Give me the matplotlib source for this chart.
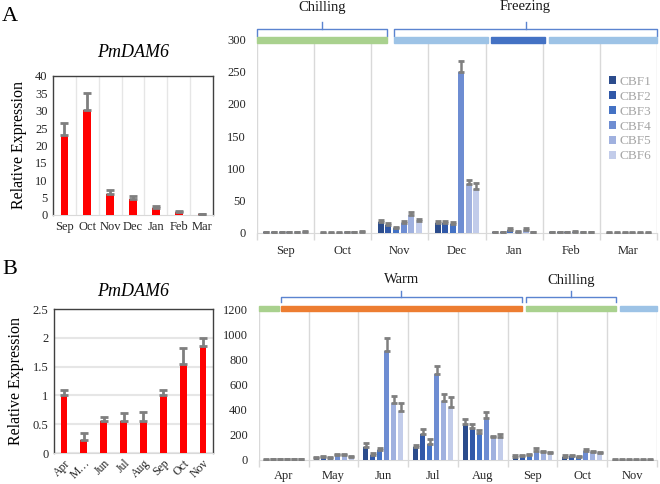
import numpy as np
import matplotlib
matplotlib.use("Agg")
import matplotlib.pyplot as plt
from matplotlib.patches import Rectangle
import matplotlib.transforms as mtransforms

plt.rcParams['font.family'] = ['Liberation Serif', 'DejaVu Serif']

# ---- data ----
months_a = ["Sep", "Oct", "Nov", "Dec", "Jan", "Feb", "Mar"]
dam6_a = [23.0, 30.3, 6.0, 4.6, 2.1, 0.9, 0.2]
dam6_a_err = [3.5, 4.7, 1.2, 1.0, 0.5, 0.3, 0.1]

months_b = ["Apr", "M\u2026", "Jun", "Jul", "Aug", "Sep", "Oct", "Nov"]
months_b_right = ["Apr", "May", "Jun", "Jul", "Aug", "Sep", "Oct", "Nov"]
dam6_b = [1.0, 0.23, 0.55, 0.55, 0.55, 1.0, 1.55, 1.85]
dam6_b_err = [0.1, 0.12, 0.08, 0.14, 0.17, 0.09, 0.28, 0.14]

cbf_names = ["CBF1", "CBF2", "CBF3", "CBF4", "CBF5", "CBF6"]
cbf_colors = ["#2B4C8C", "#3058A8", "#4472C4", "#6E8DD2", "#A0B1DF", "#C2CCEA"]

# CBF expression, winter series (rows = CBF1..6, columns = Sep..Mar)
cbf_a = [
    [1, 0.5, 16.5, 15, 1, 1, 0.5],
    [1, 0.5, 12.4, 15, 1, 1, 0.5],
    [1, 0.5, 7.2, 13.4, 5, 1, 0.5],
    [1, 1, 15, 249.5, 2, 2, 0.5],
    [1, 1, 28, 75.8, 4, 1, 0.5],
    [2, 2, 18, 68, 1, 1, 0.5],
]
cbf_a_err = [
    [1, 1, 4, 4, 1, 1, 0.8],
    [1, 1, 3, 3.5, 1, 1, 0.8],
    [1, 1, 2, 4, 3, 1, 0.8],
    [1, 1, 4, 16.5, 1, 1, 0.8],
    [1, 1, 4.5, 5.6, 3, 1, 0.8],
    [1, 1, 3.6, 10, 1, 1, 0.8],
]

# CBF expression, summer series (columns = Apr..Nov)
cbf_b = [
    [3, 13, 107, 107, 288, 27, 21, 3],
    [5, 21, 40, 208, 259, 32, 29, 3],
    [5, 16, 80, 131, 213, 37, 24, 3],
    [5, 40, 875, 685, 336, 69, 75, 3],
    [8, 40, 453, 472, 184, 64, 64, 3],
    [6, 27, 392, 427, 184, 59, 59, 3],
]
cbf_b_err = [
    [3, 8, 32, 16, 40, 13, 16, 2],
    [3, 8, 13, 43, 32, 11, 14, 2],
    [3, 5, 16, 34, 30, 11, 8, 2],
    [3, 5, 104, 70, 51, 27, 10, 2],
    [3, 5, 59, 53, 8, 5, 8, 2],
    [3, 8, 61, 77, 24, 5, 8, 2],
]

# temperature phases: (start, end, colour) in category units
phases_a = [(-0.5, 1.78, "#A9D18E"), (1.9, 3.55, "#9DC3E6"),
            (3.6, 4.54, "#4472C4"), (4.61, 6.5, "#9DC3E6")]
phases_b = [(-0.5, -0.1, "#A9D18E"), (-0.06, 4.78, "#ED7D31"),
            (4.86, 6.68, "#A9D18E"), (6.76, 7.5, "#9DC3E6")]
brackets_a = [(-0.5, 1.78, "Chilling"), (1.9, 6.5, "Freezing")]
brackets_b = [(-0.06, 4.78, "Warm"), (4.86, 6.68, "Chilling")]

err_color = "#7F7F7F"
grid_color = "#D9D9D9"
tick_color = "#262626"

fig = plt.figure(figsize=(6.6, 4.84), dpi=100)


def left_panel(rect, labels, vals, errs, ymax, ystep, hgrid, rotate, tpad):
    ax = fig.add_axes(rect)
    x = np.arange(len(labels))
    ax.bar(x, vals, width=0.34, color="#FF0000", zorder=3)
    ax.errorbar(x, vals, yerr=[np.zeros(len(vals)), errs], fmt="none",
                ecolor=err_color, elinewidth=2, capsize=3, capthick=2, zorder=4)
    ax.set_xlim(-0.5, len(labels) - 0.5)
    ax.set_ylim(0, ymax)
    ax.set_yticks(np.arange(0, ymax + ystep / 2, ystep))
    ax.set_yticklabels([("%g" % v) for v in np.arange(0, ymax + ystep / 2, ystep)])
    ax.set_xticks(x)
    ax.tick_params(axis="both", length=0, labelsize=9, colors=tick_color, pad=4)
    if rotate:
        ax.set_xticklabels(labels, rotation=45, ha="right", rotation_mode="anchor",
                           fontsize=8.5)
        ax.tick_params(axis="x", pad=3)
    else:
        ax.set_xticklabels(labels)
    if hgrid:
        ax.yaxis.grid(True, color="#E6E6E6", linewidth=1.5)
    else:
        ax.set_xticks(np.arange(0.5, len(labels) - 0.5), minor=True)
        ax.tick_params(axis="x", which="minor", length=0)
        ax.xaxis.grid(True, which="minor", color="#E6E6E6", linewidth=1)
    ax.set_axisbelow(True)
    for s in ["left", "top", "right"]:
        ax.spines[s].set_color("#404040")
        ax.spines[s].set_linewidth(1)
    ax.spines["bottom"].set_color(grid_color)
    ax.set_title("PmDAM6", fontstyle="italic", fontsize=13, pad=tpad)
    ax.set_ylabel("Relative Expression", fontsize=11.5, labelpad=6)
    return ax


def right_panel(rect, labels, data, errs, ymax, ystep, step, width,
                phases, brackets, strip, br, tips, text_y, xpad, legend):
    ax = fig.add_axes(rect)
    n = len(labels)
    x = np.arange(n)
    for i in range(len(cbf_names)):
        off = (i - 2.5) * step
        ax.bar(x + off, data[i], width=width, color=cbf_colors[i],
               label=cbf_names[i], zorder=3)
        ax.errorbar(x + off, data[i], yerr=[np.zeros(n), errs[i]], fmt="none",
                    ecolor=err_color, elinewidth=1.8, capsize=2.2, capthick=2,
                    zorder=4)
    ax.set_xlim(-0.5, n - 0.5)
    ax.set_ylim(0, ymax)
    ticks = np.arange(0, ymax + ystep / 2, ystep)
    ax.set_yticks(ticks)
    ax.set_yticklabels(["%d" % v for v in ticks])
    ax.set_xticks(x)
    ax.set_xticklabels(labels)
    ax.set_xticks(np.arange(-0.5, n), minor=True)
    ax.tick_params(axis="both", which="major", length=0, labelsize=9,
                   colors=tick_color)
    ax.tick_params(axis="x", which="major", pad=xpad)
    ax.tick_params(axis="x", which="minor", length=5, color=grid_color, width=1)
    ax.tick_params(axis="y", pad=8)
    ax.xaxis.grid(True, which="minor", color=grid_color, linewidth=1)
    ax.set_axisbelow(True)
    for s in ["left", "top", "right"]:
        ax.spines[s].set_visible(False)
    ax.spines["bottom"].set_color(grid_color)

    trans = mtransforms.blended_transform_factory(ax.transData, ax.transAxes)
    for a, b, c in phases:
        ax.add_patch(Rectangle((a, strip[0]), b - a, strip[1] - strip[0],
                               transform=trans, color=c, clip_on=False,
                               zorder=5))
    for (a, b, name), tip, ty in zip(brackets, tips, text_y):
        mid = (a + b) / 2
        ax.plot([a, a, b, b], [br[1], br[0], br[0], br[1]], transform=trans,
                color="#5B84D0", lw=1, clip_on=False)
        ax.plot([mid, mid], [br[0], tip], transform=trans, color="#5B84D0",
                lw=1, clip_on=False)
        ax.text(mid, ty, name, transform=trans, ha="center", va="center",
                fontsize=10.5, color="#1A1A1A")
    if legend:
        leg = ax.legend(loc="upper left", bbox_to_anchor=(0.88, 0.81),
                        frameon=False, fontsize=9.5, handlelength=0.55,
                        handleheight=0.55, handletextpad=0.25,
                        labelspacing=0.22, borderaxespad=0, borderpad=0)
        for t in leg.get_texts():
            t.set_color("#A6A6A6")
    return ax


left_panel([0.0803, 0.5558, 0.2424, 0.2872], months_a, dam6_a, dam6_a_err,
           40, 5, False, False, 14)
left_panel([0.0818, 0.064, 0.241, 0.2975], months_b, dam6_b, dam6_b_err,
           2.5, 0.5, True, True, 9.5)

right_panel([0.3894, 0.5186, 0.606, 0.4008], months_a, cbf_a, cbf_a_err,
            300, 50, 0.135, 0.105, phases_a, brackets_a,
            (0.981, 1.009), (1.052, 1.015), [1.088, 1.088], [1.165, 1.17],
            9, True)
right_panel([0.3924, 0.0496, 0.603, 0.31], months_b_right, cbf_b, cbf_b_err,
            1200, 200, 0.14, 0.1, phases_b, brackets_b,
            (0.991, 1.027), (1.089, 1.055), [1.129, 1.129], [1.205, 1.193],
            7, False)

fig.text(0.015, 0.965, "A", fontsize=16, ha="center", va="center")
fig.text(0.015, 0.443, "B", fontsize=16, ha="center", va="center")

fig.savefig("out.png", dpi=100)
